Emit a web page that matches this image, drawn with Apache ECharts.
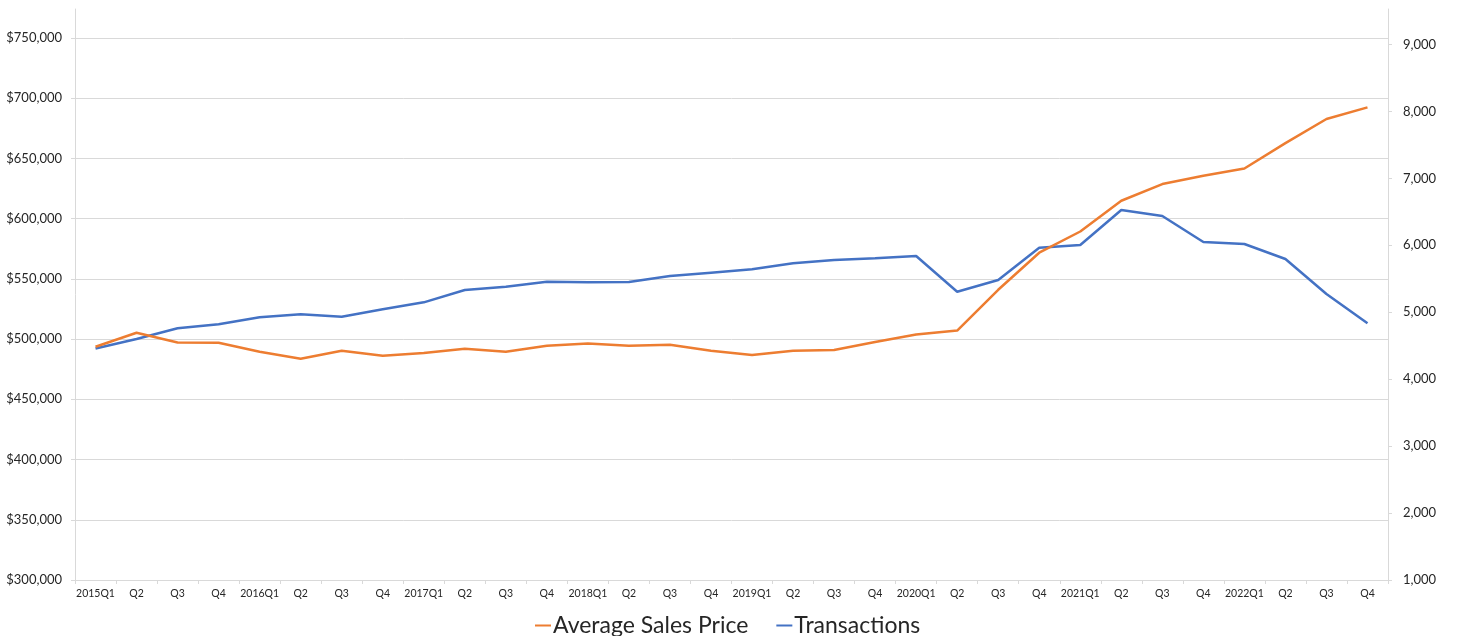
<!DOCTYPE html>
<html>
<head>
<meta charset="utf-8">
<script src="https://cdn.jsdelivr.net/npm/echarts@6/dist/echarts.min.js"></script>
<style>
  html, body { margin: 0; padding: 0; background: #fff; }
  #chart { width: 1465px; height: 636px; }
</style>
</head>
<body>
<div id="chart"></div>
<script>
// quarters on the x axis
var quarters = [
    '2015Q1', 'Q2', 'Q3', 'Q4',
    '2016Q1', 'Q2', 'Q3', 'Q4',
    '2017Q1', 'Q2', 'Q3', 'Q4',
    '2018Q1', 'Q2', 'Q3', 'Q4',
    '2019Q1', 'Q2', 'Q3', 'Q4',
    '2020Q1', 'Q2', 'Q3', 'Q4',
    '2021Q1', 'Q2', 'Q3', 'Q4',
    '2022Q1', 'Q2', 'Q3', 'Q4'
];

// left axis: average sales price
var avgPrice = [
    493600, 505200, 497200, 496900,
    489500, 483600, 490300, 486100,
    488400, 491900, 489500, 494400,
    496300, 494400, 495300, 490300,
    486700, 490300, 490900, 497500,
    503800, 507100, 540900, 571700,
    589300, 614800, 628700, 635600,
    641600, 662700, 682700, 692300
];

// right axis: transactions
var transactions = [
    4458, 4600, 4760, 4820,
    4924, 4969, 4933, 5044,
    5148, 5332, 5381, 5456,
    5447, 5452, 5541, 5591,
    5642, 5731, 5780, 5806,
    5840, 5307, 5482, 5964,
    6004, 6527, 6438, 6049,
    6019, 5795, 5272, 4835
];

var priceTicks = [300000, 350000, 400000, 450000, 500000, 550000, 600000, 650000, 700000, 750000];
var countTicks = [1000, 2000, 3000, 4000, 5000, 6000, 7000, 8000, 9000];

var gridColor = '#d9d9d9';
var labelColor = '#262626';
var fontFamily = 'Lato, "Open Sans", sans-serif';

var myChart = echarts.init(document.getElementById('chart'));

var option = {
    animation: false,
    color: ['#ED7D31', '#4472C4'],
    textStyle: { fontFamily: fontFamily },
    grid: {
        left: 75,
        right: 77,
        top: 9,
        bottom: 56,
        containLabel: false
    },
    legend: {
        left: 530,
        top: 609,
        icon: 'rect',
        itemWidth: 16,
        itemHeight: 2,
        itemGap: 28,
        textStyle: {
            fontSize: 23,
            color: labelColor,
            fontFamily: fontFamily,
            padding: [0, 0, 0, -3]
        },
        data: ['Average Sales Price', 'Transactions']
    },
    xAxis: {
        type: 'category',
        data: quarters,
        boundaryGap: true,
        axisLine: { lineStyle: { color: gridColor } },
        axisTick: {
            show: true,
            length: 4,
            lineStyle: { color: gridColor }
        },
        axisLabel: {
            interval: 0,
            fontSize: 10.5,
            color: labelColor,
            margin: 8
        }
    },
    yAxis: [{
        type: 'value',
        position: 'left',
        min: 300000,
        max: 774000,
        axisLine: { show: true, lineStyle: { color: gridColor } },
        axisTick: {
            show: true,
            length: 4,
            customValues: priceTicks,
            lineStyle: { color: gridColor }
        },
        splitLine: {
            show: true,
            lineStyle: { color: gridColor, width: 1 }
        },
        axisLabel: {
            customValues: priceTicks,
            fontSize: 13,
            color: labelColor,
            margin: 13,
            formatter: function (v) {
                return '$' + v.toLocaleString('en-US');
            }
        }
    }, {
        type: 'value',
        position: 'right',
        min: 1000,
        max: 9530,
        axisLine: { show: true, lineStyle: { color: gridColor } },
        axisTick: {
            show: true,
            length: 4,
            customValues: countTicks,
            lineStyle: { color: gridColor }
        },
        splitLine: { show: false },
        axisLabel: {
            customValues: countTicks,
            fontSize: 13,
            color: labelColor,
            margin: 15,
            formatter: function (v) {
                return v.toLocaleString('en-US');
            }
        }
    }],
    series: [{
        name: 'Average Sales Price',
        type: 'line',
        yAxisIndex: 0,
        data: avgPrice,
        symbol: 'none',
        lineStyle: { width: 2.5 },
        z: 3
    }, {
        name: 'Transactions',
        type: 'line',
        yAxisIndex: 1,
        data: transactions,
        symbol: 'none',
        lineStyle: { width: 2.5 },
        z: 2
    }]
};

myChart.setOption(option);
</script>
</body>
</html>
